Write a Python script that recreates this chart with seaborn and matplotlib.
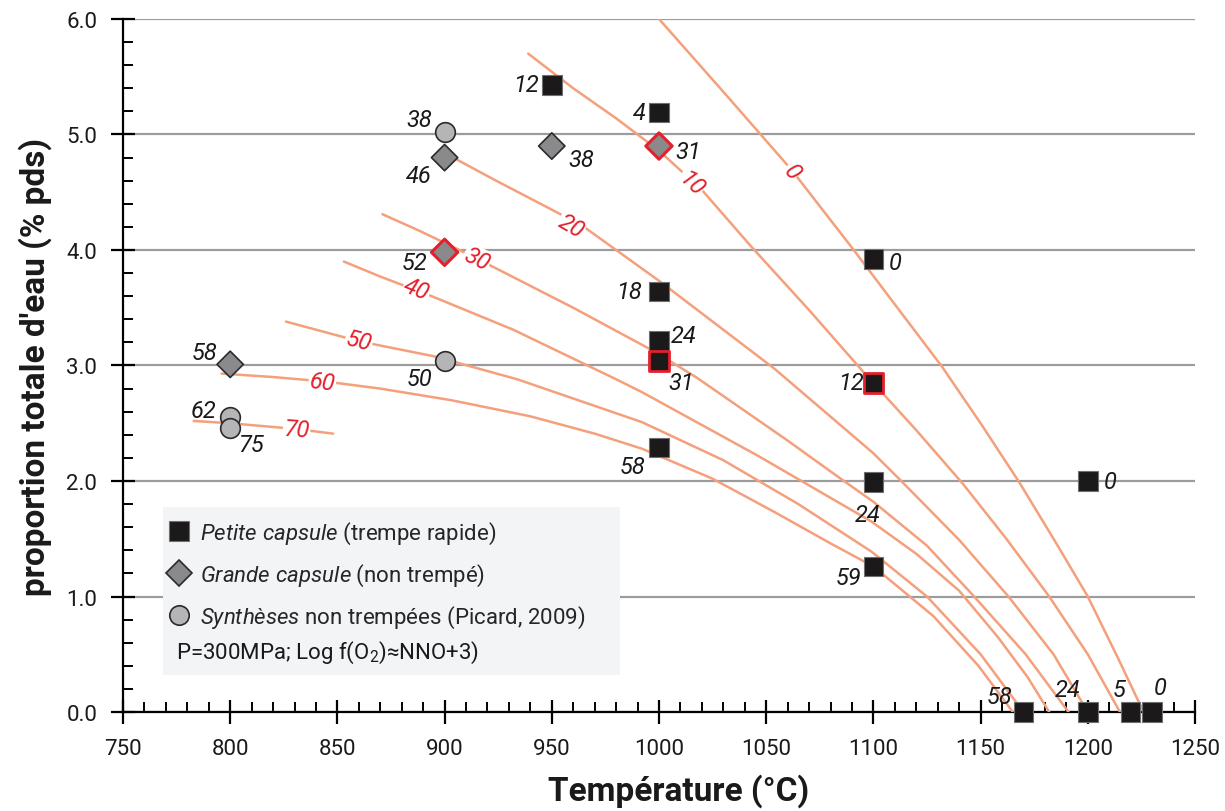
import matplotlib
matplotlib.use('Agg')
import matplotlib.pyplot as plt
from matplotlib import font_manager
from matplotlib.lines import Line2D
from matplotlib.patches import Rectangle
from matplotlib.ticker import MultipleLocator, FormatStrFormatter
import seaborn as sns

# --- data ---
# petite capsule (trempe rapide) : black squares
sq_T = [950, 1000, 1000, 1000, 1000, 1000, 1100, 1100, 1100, 1100, 1200, 1170, 1200, 1220, 1230]
sq_W = [5.43, 5.19, 3.64, 3.21, 3.04, 2.29, 3.92, 2.85, 1.99, 1.26, 2.00, 0.0, 0.0, 0.0, 0.0]
sq_lab = ['12', '4', '18', '24', '31', '58', '0', '12', '24', '59', '0', '58', '24', '5', '0']
sq_red = [False, False, False, False, True, False, False, True, False, False, False, False, False, False, False]

# grande capsule (non trempe) : grey diamonds
dm_T = [800, 900, 950, 1000, 900]
dm_W = [3.01, 4.80, 4.90, 4.90, 3.98]
dm_lab = ['58', '46', '38', '31', '52']
dm_red = [False, False, False, True, True]

# syntheses non trempees (Picard, 2009) : light grey circles
ci_T = [900, 900, 800, 800]
ci_W = [5.02, 3.04, 2.55, 2.46]
ci_lab = ['38', '50', '62', '75']

# iso-crystallinity curves (%)
c0_T = [1000, 1030, 1062, 1090, 1112, 1132, 1150, 1168, 1185, 1200, 1214, 1226]
c0_W = [6.00, 5.37, 4.69, 4.02, 3.48, 2.99, 2.50, 1.99, 1.47, 1.00, 0.47, 0.00]
c10_T = [939, 960, 980, 1000, 1020, 1043, 1070, 1096, 1120, 1142, 1162, 1182, 1200, 1215]
c10_W = [5.70, 5.40, 5.14, 4.86, 4.52, 4.03, 3.48, 2.93, 2.44, 1.97, 1.50, 1.00, 0.50, 0.00]
c20_T = [903, 923, 953, 965, 1001, 1054, 1100, 1113, 1140, 1163, 1184, 1200]
c20_W = [4.81, 4.61, 4.32, 4.20, 3.72, 2.97, 2.24, 2.00, 1.49, 1.00, 0.50, 0.00]
c30_T = [871, 889, 908, 922, 960, 998, 1018, 1060, 1084, 1100, 1125, 1147, 1171, 1191]
c30_W = [4.31, 4.16, 3.99, 3.86, 3.50, 3.12, 2.89, 2.35, 2.03, 1.82, 1.44, 1.00, 0.50, 0.00]
c40_T = [853, 870, 894, 932, 979, 992, 1046, 1099, 1120, 1140, 1158, 1172, 1182]
c40_W = [3.90, 3.77, 3.60, 3.31, 2.89, 2.77, 2.22, 1.65, 1.37, 1.05, 0.65, 0.30, 0.00]
c50_T = [826, 860, 895, 934, 992, 1030, 1065, 1099, 1125, 1150, 1170]
c50_W = [3.38, 3.21, 3.08, 2.88, 2.51, 2.18, 1.80, 1.39, 1.00, 0.50, 0.00]
c60_T = [796, 820, 845, 870, 903, 940, 970, 992, 1025, 1054, 1080, 1100, 1128, 1149, 1165]
c60_W = [2.93, 2.90, 2.86, 2.80, 2.70, 2.56, 2.41, 2.28, 2.02, 1.73, 1.46, 1.26, 0.83, 0.40, 0.00]
c70_T = [783, 800, 831, 848]
c70_W = [2.52, 2.50, 2.45, 2.41]
curves = [(c0_T, c0_W), (c10_T, c10_W), (c20_T, c20_W), (c30_T, c30_W),
          (c40_T, c40_W), (c50_T, c50_W), (c60_T, c60_W), (c70_T, c70_W)]
curve_lab = ['0', '10', '20', '30', '40', '50', '60', '70']

# --- layout (label placement) ---
curve_lab_pos = [(1062, 4.68), (1015, 4.58), (959, 4.21), (915, 3.92),
                 (887, 3.66), (860, 3.21), (843, 2.86), (831, 2.45)]
curve_lab_rot = [-50, -44, -30, -26, -22, -14, -7, -4]
sq_off = [(-26, 0), (-20, 0), (-30, 0), (25, 6), (22, -22), (-26, -19), (22, -3), (-22, 0),
          (-6, -32), (-25, -11), (22, 0), (-24, 16), (-20, 23), (-12, 23), (8, 25)]
dm_off = [(-26, 12), (-26, -18), (29, -13), (29, -5), (-30, -10)]
ci_off = [(-25, 13), (-25, -18), (-27, 7), (21, -17)]

line_col = '#F4A07C'
red = '#E3202B'

sns.set_theme(style='white')
names = {f.name for f in font_manager.fontManager.ttflist}
base = 'Liberation Sans Narrow' if 'Liberation Sans Narrow' in names else 'Roboto'
plt.rcParams['font.family'] = [base, 'DejaVu Sans']
plt.rcParams['mathtext.fontset'] = 'custom'
plt.rcParams['mathtext.rm'] = base
plt.rcParams['mathtext.it'] = base + ':italic'

fig = plt.figure(figsize=(12.25, 8.12), dpi=100)
ax = fig.add_axes([0.1004, 0.1219, 0.8751, 0.8535])

for (T, W) in curves:
    sns.lineplot(x=T, y=W, color=line_col, lw=1.8, ax=ax, estimator=None, sort=False, zorder=3)

for lab, (x, y), r in zip(curve_lab, curve_lab_pos, curve_lab_rot):
    ax.text(x, y, lab, color=red, fontsize=17, style='italic', rotation=r,
            rotation_mode='anchor', ha='center', va='center', zorder=4,
            bbox=dict(facecolor='white', edgecolor='none', pad=0.6))

sns.scatterplot(x=ci_T, y=ci_W, marker='o', s=200, color='#B5B5B8',
                edgecolor='#2a2a2a', linewidth=1.2, ax=ax, zorder=6)
sns.scatterplot(x=dm_T, y=dm_W, marker='D', s=180, color='#8A8A8C',
                edgecolor=[red if r else '#2a2a2a' for r in dm_red],
                linewidth=[2.2 if r else 1.2 for r in dm_red], ax=ax, zorder=6)
sns.scatterplot(x=sq_T, y=sq_W, marker='s', s=200, color='#1B191A',
                edgecolor=[red if r else '#707070' for r in sq_red],
                linewidth=[2.0 if r else 0.8 for r in sq_red], ax=ax, zorder=7)
for c in ax.collections:
    c.set_clip_on(False)

for T, W, labs, offs in [(sq_T, sq_W, sq_lab, sq_off), (dm_T, dm_W, dm_lab, dm_off),
                         (ci_T, ci_W, ci_lab, ci_off)]:
    for x, y, lab, o in zip(T, W, labs, offs):
        ax.annotate(lab, (x, y), xytext=o, textcoords='offset pixels', ha='center',
                    va='center', fontsize=17, style='italic', color='#1a1a1a', zorder=8,
                    annotation_clip=False)

ax.set_xlim(750, 1250)
ax.set_ylim(0, 6)
ax.xaxis.set_major_locator(MultipleLocator(50))
ax.xaxis.set_minor_locator(MultipleLocator(10))
ax.yaxis.set_major_locator(MultipleLocator(1))
ax.yaxis.set_minor_locator(MultipleLocator(0.2))
ax.yaxis.set_major_formatter(FormatStrFormatter('%.1f'))
ax.yaxis.grid(True, which='major', color='#9C9C9C', lw=1.6, zorder=1)
ax.set_axisbelow(True)
ax.tick_params(which='major', direction='inout', length=17, width=1.6, pad=10,
               labelsize=16, color='black', labelcolor='#1a1a1a')
ax.tick_params(which='minor', direction='in', length=7, width=1.4, color='black')
ax.tick_params(axis='x', which='both', bottom=True)
ax.tick_params(axis='y', which='both', left=True)
for s in ['top', 'right']:
    ax.spines[s].set_visible(False)
for s in ['left', 'bottom']:
    ax.spines[s].set_color('black')
    ax.spines[s].set_linewidth(1.6)

ax.set_xlabel('Température (°C)', fontsize=24, fontweight='bold', color='#1a1a1a')
ax.set_ylabel("proportion totale d'eau (% pds)", fontsize=24, fontweight='bold', color='#1a1a1a')
ax.xaxis.set_label_coords(0.518, -0.088)
ax.yaxis.set_label_coords(-0.066, 0.5)

# legend box
ax.add_patch(Rectangle((0.0373, 0.0534), 0.4263, 0.2424, transform=ax.transAxes,
                       facecolor='#F3F4F6', edgecolor='none', zorder=2.5))
handles = [
    Line2D([], [], marker='s', ls='none', ms=14, mfc='#1B191A', mec='#707070', mew=0.8),
    Line2D([], [], marker='D', ls='none', ms=13, mfc='#8A8A8C', mec='#2a2a2a', mew=1.2),
    Line2D([], [], marker='o', ls='none', ms=14, mfc='#B5B5B8', mec='#2a2a2a', mew=1.2),
]
labels = [r'$\mathit{Petite\ capsule}$ (trempe rapide)',
          r'$\mathit{Grande\ capsule}$ (non trempé)',
          r'$\mathit{Synthèses}$ non trempées (Picard, 2009)']
leg = ax.legend(handles, labels, loc='upper left', bbox_to_anchor=(0.042, 0.278),
                frameon=False, fontsize=16, handlelength=1.0, handletextpad=0.45,
                labelspacing=0.72, borderpad=0, borderaxespad=0)
leg.set_zorder(9)
ax.text(0.049, 0.0866, r'P=300MPa; Log f(O$_2$)≈NNO+3)', transform=ax.transAxes,
        fontsize=16, va='center', ha='left', color='#1a1a1a', zorder=9)

fig.savefig('out.png', dpi=100)
